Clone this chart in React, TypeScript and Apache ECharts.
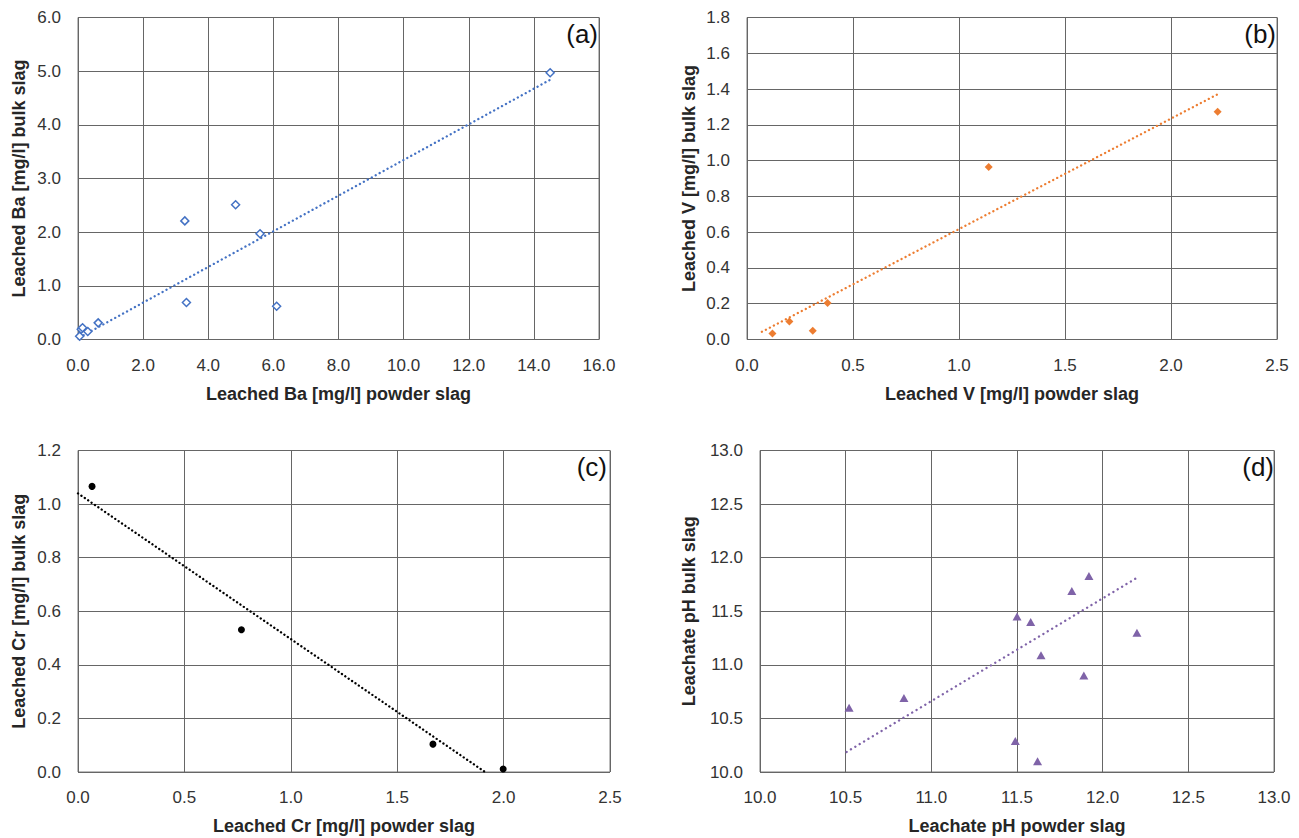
import React, { useEffect, useRef } from "react";
import * as echarts from "echarts";

// ---- Data ----
// (a) Barium
const baPowder = [0.05, 0.1, 0.14, 0.3, 0.62, 3.28, 3.33, 4.84, 5.59, 6.1, 14.5];
const baBulk = [0.06, 0.19, 0.22, 0.15, 0.31, 2.21, 0.69, 2.51, 1.97, 0.62, 4.97];
const baTrendX = [0.05, 14.5];
const baTrendY = [0.04, 4.84];

// (b) Vanadium
const vPowder = [0.12, 0.2, 0.31, 0.38, 1.14, 2.22];
const vBulk = [0.034, 0.1, 0.049, 0.204, 0.964, 1.273];
const vTrendX = [0.07, 2.225];
const vTrendY = [0.043, 1.374];

// (c) Chromium
const crPowder = [0.066, 0.768, 1.668, 1.998];
const crBulk = [1.066, 0.531, 0.104, 0.011];
const crTrendX = [0, 1.913];
const crTrendY = [1.04, 0];

// (d) pH
const phPowder = [10.52, 10.84, 11.5, 11.58, 11.64, 11.49, 11.62, 11.82, 11.92, 11.89, 12.2];
const phBulk = [10.6, 10.69, 11.45, 11.4, 11.09, 10.29, 10.1, 11.69, 11.83, 10.9, 11.3];
const phTrendX = [10.505, 12.206];
const phTrendY = [10.187, 11.818];

// Axis settings
const panelLabels = ["(a)", "(b)", "(c)", "(d)"];
const xTitles = [
  "Leached Ba [mg/l] powder slag",
  "Leached V [mg/l] powder slag",
  "Leached Cr [mg/l] powder slag",
  "Leachate pH powder slag",
];
const yTitles = [
  "Leached Ba [mg/l] bulk slag",
  "Leached V [mg/l] bulk slag",
  "Leached Cr [mg/l] bulk slag",
  "Leachate pH bulk slag",
];
const xRanges = [
  [0, 16, 2],
  [0, 2.5, 0.5],
  [0, 2.5, 0.5],
  [10, 13, 0.5],
];
const yRanges = [
  [0, 6, 1],
  [0, 1.8, 0.2],
  [0, 1.2, 0.2],
  [10, 13, 0.5],
];

const FONT = "'Liberation Sans', Arial, sans-serif";
const GRID_COLOR = "#666666";

export default function App() {
  const ref = useRef<HTMLDivElement>(null);

  useEffect(() => {
    if (!ref.current) return;
    const chart = echarts.init(ref.current, null, { renderer: "svg" });

    const grids = [
      { left: 78, top: 17.5, width: 521, height: 322 },
      { left: 747, top: 17.5, width: 530, height: 322 },
      { left: 78, top: 450.5, width: 532, height: 321.5 },
      { left: 760, top: 450.5, width: 514, height: 321.5 },
    ].map((g) => ({ ...g, show: true, borderColor: "#7a7a7a", borderWidth: 1, backgroundColor: "#fff" }));

    const yGaps = [50, 49, 50, 62];

    const xAxes = xRanges.map((r, i) => ({
      type: "value",
      gridIndex: i,
      min: r[0],
      max: r[1],
      interval: r[2],
      name: xTitles[i],
      nameLocation: "middle",
      nameGap: 45,
      nameTextStyle: { fontFamily: FONT, fontWeight: "bold", fontSize: 18, color: "#262626" },
      axisLine: { show: false },
      axisTick: { show: false },
      axisLabel: {
        margin: 17,
        fontFamily: FONT,
        fontSize: 17,
        color: "#333",
        formatter: (v: number) => v.toFixed(1),
      },
      splitLine: { show: true, lineStyle: { color: GRID_COLOR, width: 1 } },
    }));

    const yAxes = yRanges.map((r, i) => ({
      type: "value",
      gridIndex: i,
      min: r[0],
      max: r[1],
      interval: r[2],
      name: yTitles[i],
      nameLocation: "middle",
      nameRotate: 90,
      nameGap: yGaps[i],
      nameTextStyle: { fontFamily: FONT, fontWeight: "bold", fontSize: 18, color: "#262626" },
      axisLine: { show: false },
      axisTick: { show: false },
      axisLabel: {
        margin: 17,
        fontFamily: FONT,
        fontSize: 17,
        color: "#333",
        formatter: (v: number) => v.toFixed(1),
      },
      splitLine: { show: true, lineStyle: { color: GRID_COLOR, width: 1 } },
    }));

    const pairs = (xs: number[], ys: number[]) => xs.map((x, i) => [x, ys[i]]);

    const trend = (idx: number, xs: number[], ys: number[], color: string, gap: number) => ({
      type: "line",
      xAxisIndex: idx,
      yAxisIndex: idx,
      data: pairs(xs, ys),
      showSymbol: false,
      symbol: "none",
      silent: true,
      z: 2,
      lineStyle: { color, width: 2.3, type: [0.1, gap], cap: "round" },
    });

    const series = [
      trend(0, baTrendX, baTrendY, "#4472C4", 4.4),
      {
        type: "scatter",
        xAxisIndex: 0,
        yAxisIndex: 0,
        data: pairs(baPowder, baBulk),
        symbol: "diamond",
        symbolSize: 8,
        z: 3,
        itemStyle: { color: "#fff", borderColor: "#4472C4", borderWidth: 1.5, opacity: 1 },
      },
      trend(1, vTrendX, vTrendY, "#ED7D31", 4.4),
      {
        type: "scatter",
        xAxisIndex: 1,
        yAxisIndex: 1,
        data: pairs(vPowder, vBulk),
        symbol: "diamond",
        symbolSize: 8,
        z: 3,
        itemStyle: { color: "#ED7D31", opacity: 1 },
      },
      trend(2, crTrendX, crTrendY, "#000", 4),
      {
        type: "scatter",
        xAxisIndex: 2,
        yAxisIndex: 2,
        data: pairs(crPowder, crBulk),
        symbol: "circle",
        symbolSize: 7,
        z: 3,
        itemStyle: { color: "#000", opacity: 1 },
      },
      trend(3, phTrendX, phTrendY, "#7F63A8", 5),
      {
        type: "scatter",
        xAxisIndex: 3,
        yAxisIndex: 3,
        data: pairs(phPowder, phBulk),
        symbol: "triangle",
        symbolSize: [9, 8],
        z: 3,
        itemStyle: { color: "#7F63A8", opacity: 1 },
      },
    ];

    const labelPos = [
      [598, 21],
      [1276, 21],
      [607, 454],
      [1274, 454],
    ];

    const graphic = panelLabels.map((t, i) => ({
      type: "text",
      x: labelPos[i][0],
      y: labelPos[i][1],
      z: 10,
      style: {
        text: t,
        font: `26px ${FONT}`,
        fill: "#111",
        textAlign: "right",
        textVerticalAlign: "top",
        align: "right",
        verticalAlign: "top",
      },
    }));

    chart.setOption({
      animation: false,
      backgroundColor: "#fff",
      grid: grids,
      xAxis: xAxes,
      yAxis: yAxes,
      series,
      graphic,
    } as any);

    return () => chart.dispose();
  }, []);

  return (
    <div
      ref={ref}
      style={{ position: "absolute", left: 0, top: 0, width: 1299, height: 838, background: "#fff" }}
    />
  );
}
